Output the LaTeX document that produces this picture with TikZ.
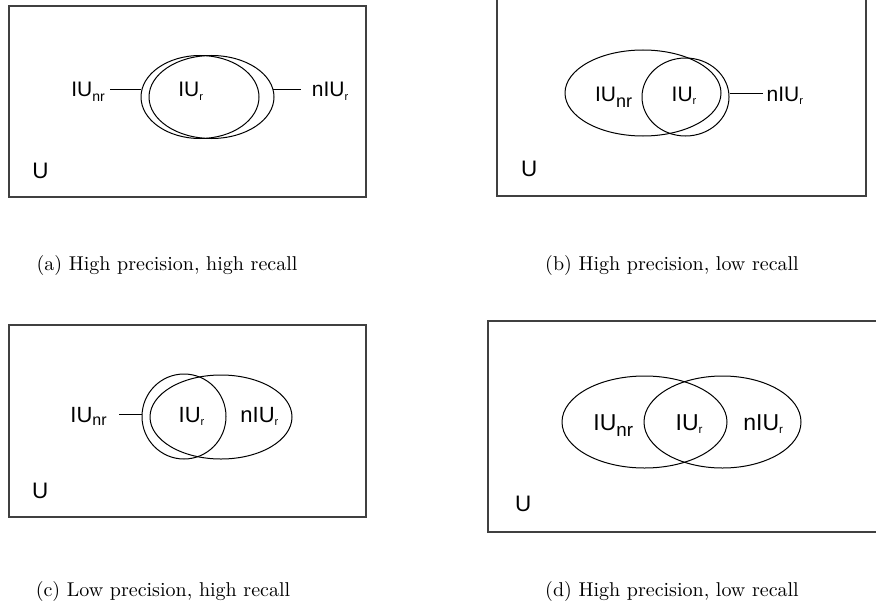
\documentclass[tikz,border=0pt]{standalone}
\usepackage{fontspec}
\newfontfamily\lblfont{Liberation Sans}
\usetikzlibrary{shapes.geometric}
\newcommand{\lowpart}[3]{\raisebox{-#3pt}{\fontsize{#1}{#1}\selectfont #2}}

\begin{document}
\begin{tikzpicture}[x=0.5pt,y=-0.5pt,
    frame/.style={draw=black!75,line width=0.55pt},
    set/.style={draw,ellipse,inner sep=0pt,line width=0.5pt},
    lbl/.style={inner sep=0pt,anchor=base west,text height=7.5pt,text depth=0pt,
      font=\lblfont\fontsize{#1}{#1}\selectfont},
    lbl/.default=10.5,
    link/.style={line width=0.5pt},
    subcap/.style={anchor=base,inner sep=0pt}]
  \useasboundingbox (0,0) rectangle (876,610);

  % (a) high precision, high recall
  \draw[frame] (9,6) rectangle (366,197);
  \node[set,minimum width=59pt,minimum height=41.5pt] (a-rel) at (200,97) {};
  \node[set,minimum width=62.5pt,minimum height=41.5pt] (a-ret) at (211.5,97) {};
  \node[lbl] (a-nr) at (71,97) {IU\lowpart{7}{nr}{2.3}};
  \node[lbl] (a-r) at (178,97) {IU\lowpart{5.5}{r}{1.8}};
  \node[lbl] (a-nir) at (311.5,97) {nIU\lowpart{5.5}{r}{1.8}};
  \node[lbl=11.2] (a-u) at (32,178) {U};
  \draw[link] ([xshift=2.5pt]a-nr.east) -- (a-nr.east -| a-rel.173);
  \draw[link] (a-nir.west -| a-ret.7) -- ([xshift=-5.5pt]a-nir.west);
  \node[subcap] (a-cap) at (167,270) {(a) High precision, high recall};

  % (b) high precision, low recall
  \draw[frame] (497,-5) rectangle (866,196);
  \node[set,minimum width=78pt,minimum height=43pt] (b-rel) at (643,93) {};
  \node[set,minimum width=43.5pt,minimum height=39pt] (b-ret) at (685.5,97) {};
  \node[lbl] (b-nr) at (594.7,101) {IU\lowpart{9}{nr}{3.3}};
  \node[lbl] (b-r) at (671.3,101) {IU\lowpart{5.5}{r}{1.8}};
  \node[lbl] (b-nir) at (766.3,101) {nIU\lowpart{5.5}{r}{1.8}};
  \node[lbl=11.2] (b-u) at (520.7,176.7) {U};
  \draw[link] (b-nir.west -| b-ret.0) -- ([xshift=-1.5pt]b-nir.west);
  \node[subcap] (b-cap) at (672,270) {(b) High precision, low recall};

  % (c) low precision, high recall
  \draw[frame] (9,325) rectangle (366,517);
  \node[set,minimum width=42pt,minimum height=42.5pt] (c-rel) at (184,416.5) {};
  \node[set,minimum width=71pt,minimum height=42pt] (c-ret) at (221,417) {};
  \node[lbl=11] (c-nr) at (70,422) {IU\lowpart{8}{nr}{1.5}};
  \node[lbl=11] (c-r) at (178.3,422) {IU\lowpart{5.5}{r}{1.8}};
  \node[lbl=11] (c-nir) at (240,422) {nIU\lowpart{5.5}{r}{1.8}};
  \node[lbl=11.2] (c-u) at (31.7,498.3) {U};
  \draw[link] ([xshift=6pt]c-nr.east) -- (c-nr.east -| c-rel.176);
  \node[subcap] (c-cap) at (163,596) {(c) Low precision, high recall};

  % (d) high precision, low recall
  \draw[frame] (488,321) rectangle (885,532);
  \node[set,minimum width=82.5pt,minimum height=46pt] (d-rel) at (644.5,422) {};
  \node[set,minimum width=78.5pt,minimum height=46pt] (d-ret) at (722.5,422) {};
  \node[lbl=11.5] (d-nr) at (593,430) {IU\lowpart{9.4}{nr}{3.3}};
  \node[lbl=11.5] (d-r) at (675.3,430) {IU\lowpart{5.8}{r}{1.8}};
  \node[lbl=11.5] (d-nir) at (743,430) {nIU\lowpart{5.8}{r}{1.8}};
  \node[lbl=11.2] (d-u) at (514.7,511.7) {U};
  \node[subcap] (d-cap) at (672,596) {(d) High precision, low recall};
\end{tikzpicture}
\end{document}
